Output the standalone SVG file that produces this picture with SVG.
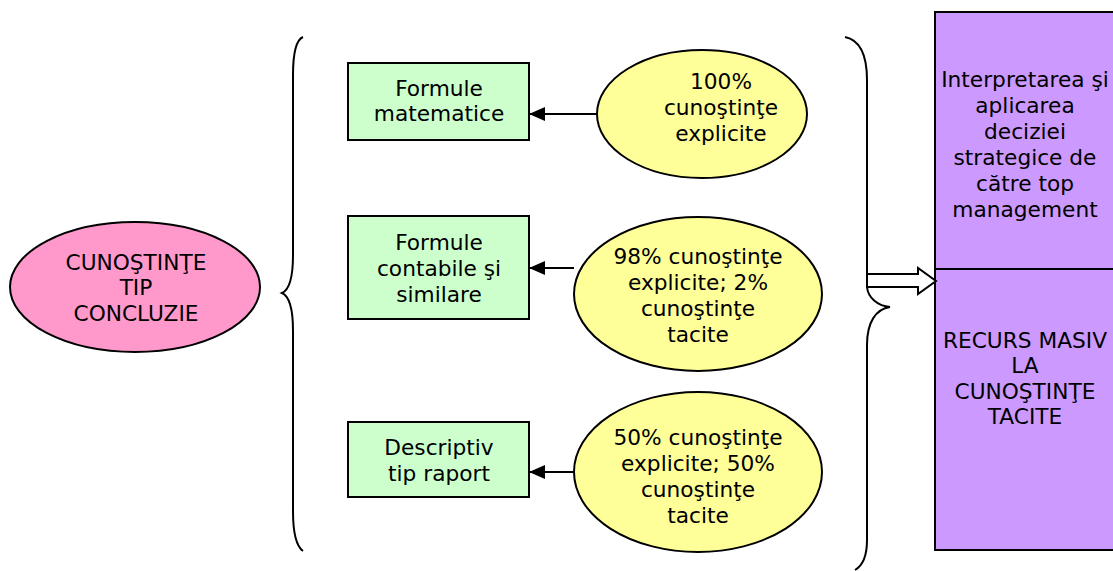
<svg xmlns="http://www.w3.org/2000/svg" width="1113" height="571" viewBox="0 0 1113 571">
<style>
text{font-family:"DejaVu Sans",Verdana,sans-serif;font-size:21.7px;fill:#000;text-anchor:middle}
.s{stroke:#000;stroke-width:2}
.br{fill:none;stroke:#000;stroke-width:2}
</style>
<defs>
<marker id="ah" markerWidth="16" markerHeight="14" refX="15" refY="7" orient="auto" markerUnits="userSpaceOnUse">
<path d="M0,0 L16,7 L0,14 Z" fill="#000"/>
</marker>
</defs>
<rect width="1113" height="571" fill="#fff"/>
<g id="node-concluzie">
<ellipse class="s" cx="135" cy="287" rx="125" ry="65" fill="#FF99CC"/>
<text x="136" y="270">CUNOŞTINŢE</text>
<text x="136" y="295">TIP</text>
<text x="136" y="321">CONCLUZIE</text>
</g>
<g id="braces">
<path class="br" d="M303,37 C296,40 293,55 293,75 L293,255 C293,280 289,290 282,293 C289,296 293,306 293,331 L293,511 C293,531 296,546 303,551"/>
<path class="br" d="M845,37 C860,40 867,55 867,80 L867,287 C868,298 878,306 890,307 C876,309 867,322 867,345 L867,540 C867,556 862,566 855,570"/>
</g>
<g id="box-matematice">
<rect class="s" x="348" y="63" width="181" height="77" fill="#CCFFCC"/>
<text x="439" y="96">Formule</text>
<text x="439" y="121">matematice</text>
</g>
<g id="box-contabile">
<rect class="s" x="348" y="216" width="181" height="103" fill="#CCFFCC"/>
<text x="439" y="250">Formule</text>
<text x="439" y="276">contabile şi</text>
<text x="439" y="302">similare</text>
</g>
<g id="box-descriptiv">
<rect class="s" x="348" y="422" width="181" height="75" fill="#CCFFCC"/>
<text x="439" y="455">Descriptiv</text>
<text x="439" y="481">tip raport</text>
</g>
<g id="ell-100">
<ellipse class="s" cx="702" cy="114" rx="105" ry="64" fill="#FFFF99"/>
<text x="721" y="89">100%</text>
<text x="721" y="115">cunoştinţe</text>
<text x="721" y="141">explicite</text>
</g>
<g id="ell-98">
<ellipse class="s" cx="698" cy="294" rx="124" ry="77" fill="#FFFF99"/>
<text x="698" y="264">98% cunoştinţe</text>
<text x="698" y="290">explicite; 2%</text>
<text x="698" y="316">cunoştinţe</text>
<text x="698" y="342">tacite</text>
</g>
<g id="ell-50">
<ellipse class="s" cx="698" cy="472" rx="124" ry="80" fill="#FFFF99"/>
<text x="698" y="445">50% cunoştinţe</text>
<text x="698" y="471">explicite; 50%</text>
<text x="698" y="497">cunoştinţe</text>
<text x="698" y="523">tacite</text>
</g>
<g id="box-interpretarea">
<rect class="s" x="935" y="12" width="190" height="257" fill="#CC99FF"/>
<text x="1025" y="87">Interpretarea şi</text>
<text x="1025" y="113">aplicarea</text>
<text x="1025" y="139">deciziei</text>
<text x="1025" y="165">strategice de</text>
<text x="1025" y="191">către top</text>
<text x="1025" y="217">management</text>
</g>
<g id="box-recurs">
<rect class="s" x="935" y="269" width="190" height="281" fill="#CC99FF"/>
<text x="1025" y="348">RECURS MASIV</text>
<text x="1025" y="373">LA</text>
<text x="1025" y="399">CUNOŞTINŢE</text>
<text x="1025" y="424">TACITE</text>
</g>
<g id="connectors">
<line class="s" x1="597" y1="114" x2="530" y2="114" marker-end="url(#ah)"/>
<line class="s" x1="574" y1="268" x2="530" y2="268" marker-end="url(#ah)"/>
<line class="s" x1="574" y1="472" x2="530" y2="472" marker-end="url(#ah)"/>
<polygon class="s" points="867,274 918,274 918,268 936,281 918,294 918,287 867,287" fill="#fff"/>
</g>
</svg>
